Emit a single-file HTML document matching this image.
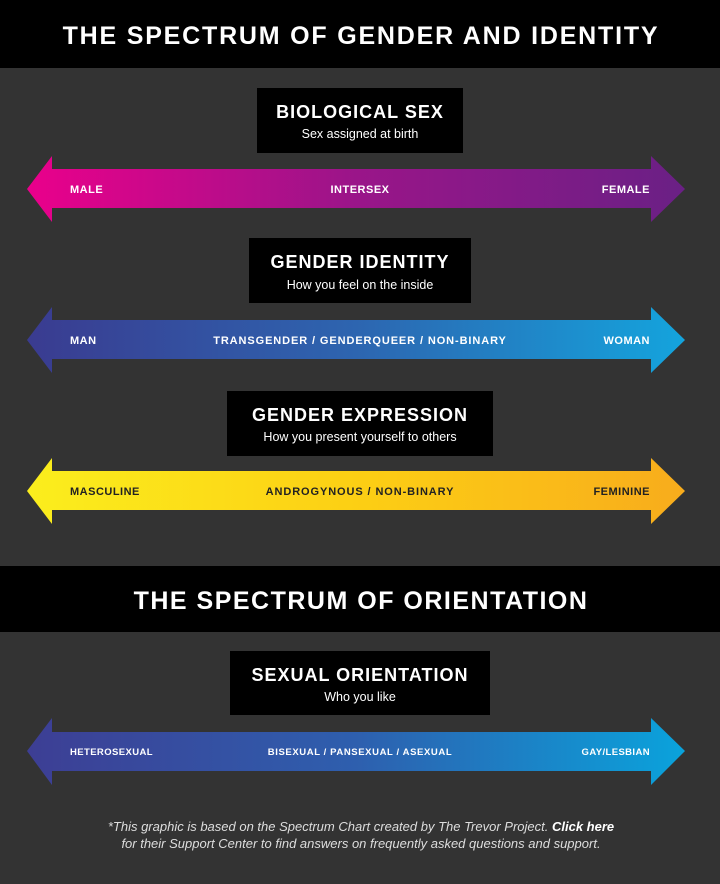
<!DOCTYPE html>
<html><head><meta charset="utf-8"><style>
html,body{margin:0;padding:0;background:#333;}
svg{display:block}
text{font-family:"Liberation Sans",sans-serif;fill:#fff}
</style></head><body>
<svg width="720" height="884" viewBox="0 0 720 884">
<defs>
<linearGradient id="g1" x1="0" x2="1"><stop offset="0" stop-color="#ea008b"/><stop offset="0.5" stop-color="#9a1589"/><stop offset="1" stop-color="#6a2085"/></linearGradient>
<linearGradient id="g2" x1="0" x2="1"><stop offset="0" stop-color="#3a3b90"/><stop offset="0.5" stop-color="#2d65b0"/><stop offset="1" stop-color="#14a4dd"/></linearGradient>
<linearGradient id="g3" x1="0" x2="1"><stop offset="0" stop-color="#fbee1d"/><stop offset="0.5" stop-color="#fccf14"/><stop offset="1" stop-color="#f8ac1c"/></linearGradient>
<linearGradient id="g4" x1="0" x2="1"><stop offset="0" stop-color="#3d3e94"/><stop offset="0.5" stop-color="#2e5fae"/><stop offset="1" stop-color="#0aa3dc"/></linearGradient>
</defs>
<rect width="720" height="884" fill="#333"/>
<rect x="0" y="0" width="720" height="68" fill="#000"/>
<text x="361" y="44" text-anchor="middle" font-size="25" font-weight="bold" letter-spacing="1.8">THE SPECTRUM OF GENDER AND IDENTITY</text>

<rect x="257" y="88" width="206" height="65" fill="#000"/>
<text x="360" y="118" text-anchor="middle" font-size="18" font-weight="bold" letter-spacing="1">BIOLOGICAL SEX</text>
<text x="360" y="138" text-anchor="middle" font-size="12.5">Sex assigned at birth</text>
<polygon points="27,189 52,156 52,169 651,169 651,156 685,189 651,222 651,208 52,208 52,222" fill="url(#g1)"/>
<text x="70" y="193" font-size="11" font-weight="bold" letter-spacing="0.5">MALE</text>
<text x="360" y="193" text-anchor="middle" font-size="11" font-weight="bold" letter-spacing="0.5">INTERSEX</text>
<text x="650" y="193" text-anchor="end" font-size="11" font-weight="bold" letter-spacing="0.5">FEMALE</text>

<rect x="249" y="238" width="222" height="65" fill="#000"/>
<text x="360" y="268" text-anchor="middle" font-size="18" font-weight="bold" letter-spacing="1">GENDER IDENTITY</text>
<text x="360" y="289" text-anchor="middle" font-size="12.5">How you feel on the inside</text>
<polygon points="27,340 52,307 52,320 651,320 651,307 685,340 651,373 651,359 52,359 52,373" fill="url(#g2)"/>
<text x="70" y="344" font-size="11" font-weight="bold" letter-spacing="0.5">MAN</text>
<text x="360" y="344" text-anchor="middle" font-size="11" font-weight="bold" letter-spacing="0.9">TRANSGENDER / GENDERQUEER / NON-BINARY</text>
<text x="650" y="344" text-anchor="end" font-size="11" font-weight="bold" letter-spacing="0.5">WOMAN</text>

<rect x="227" y="391" width="266" height="65" fill="#000"/>
<text x="360" y="421" text-anchor="middle" font-size="18" font-weight="bold" letter-spacing="1">GENDER EXPRESSION</text>
<text x="360" y="441" text-anchor="middle" font-size="12.5">How you present yourself to others</text>
<polygon points="27,491 52,458 52,471 651,471 651,458 685,491 651,524 651,510 52,510 52,524" fill="url(#g3)"/>
<text x="70" y="495" font-size="11" font-weight="bold" letter-spacing="0.5" style="fill:#222">MASCULINE</text>
<text x="360" y="495" text-anchor="middle" font-size="11" font-weight="bold" letter-spacing="0.9" style="fill:#222">ANDROGYNOUS / NON-BINARY</text>
<text x="650" y="495" text-anchor="end" font-size="11" font-weight="bold" letter-spacing="0.5" style="fill:#222">FEMININE</text>

<rect x="0" y="566" width="720" height="66" fill="#000"/>
<text x="361" y="609" text-anchor="middle" font-size="25" font-weight="bold" letter-spacing="1.5">THE SPECTRUM OF ORIENTATION</text>

<rect x="230" y="651" width="260" height="64" fill="#000"/>
<text x="360" y="681" text-anchor="middle" font-size="18" font-weight="bold" letter-spacing="1">SEXUAL ORIENTATION</text>
<text x="360" y="701" text-anchor="middle" font-size="12.5">Who you like</text>
<polygon points="27,751 52,718 52,732 651,732 651,718 685,751 651,785 651,771 52,771 52,785" fill="url(#g4)"/>
<text x="70" y="755" font-size="9.5" font-weight="bold" letter-spacing="0.4">HETEROSEXUAL</text>
<text x="360" y="755" text-anchor="middle" font-size="9.5" font-weight="bold" letter-spacing="0.6">BISEXUAL / PANSEXUAL / ASEXUAL</text>
<text x="650" y="755" text-anchor="end" font-size="9.5" font-weight="bold" letter-spacing="0.4">GAY/LESBIAN</text>

<text x="361" y="831" text-anchor="middle" font-size="13" font-style="italic" style="fill:#ddd">*This graphic is based on the Spectrum Chart created by The Trevor Project. <tspan font-weight="bold" style="fill:#fff">Click here</tspan></text>
<text x="361" y="848" text-anchor="middle" font-size="13" font-style="italic" style="fill:#ddd">for their Support Center to find answers on frequently asked questions and support.</text>
</svg>
</body></html>
